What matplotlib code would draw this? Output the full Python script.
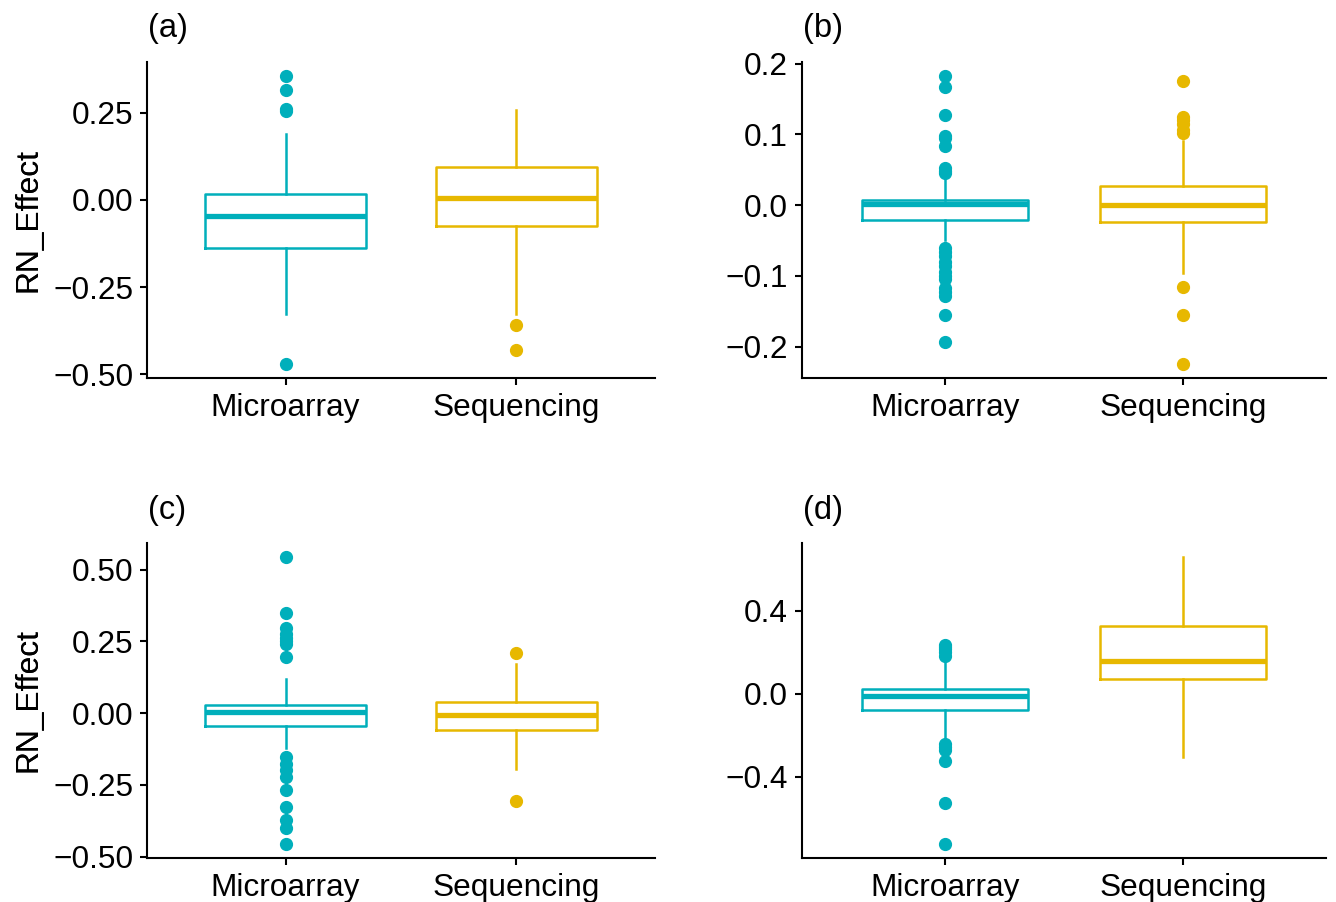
import matplotlib
matplotlib.use("Agg")
import matplotlib.pyplot as plt
from matplotlib.ticker import FixedLocator, FuncFormatter

plt.rcParams['font.family'] = ['Liberation Sans', 'DejaVu Sans']

categories = ["Microarray", "Sequencing"]
colors = ["#00AFBB", "#E7B800"]
panel_labels = ["(a)", "(b)", "(c)", "(d)"]

# panel (a)
a_q1 = [-0.138, -0.075]
a_med = [-0.045, 0.005]
a_q3 = [0.017, 0.093]
a_lo = [-0.327, -0.327]
a_hi = [0.189, 0.257]
a_out_micro = [0.354, 0.316, 0.260, 0.255, -0.469]
a_out_seq = [-0.357, -0.429]
a_ticks = [-0.50, -0.25, 0.00, 0.25]

# panel (b)
b_q1 = [-0.021, -0.0235]
b_med = [0.001, 0.0]
b_q3 = [0.007, 0.027]
b_lo = [-0.049, -0.096]
b_hi = [0.038, 0.090]
b_out_micro = [0.182, 0.167, 0.128, 0.098, 0.095, 0.083, 0.052, 0.048, 0.045,
               -0.061, -0.066, -0.072, -0.080, -0.086, -0.094, -0.100, -0.105,
               -0.117, -0.123, -0.128, -0.155, -0.194]
b_out_seq = [0.176, 0.125, 0.120, 0.115, 0.106, 0.102, -0.116, -0.155, -0.224]
b_ticks = [-0.2, -0.1, 0.0, 0.1, 0.2]

# panel (c)
c_q1 = [-0.045, -0.058]
c_med = [0.0035, -0.008]
c_q3 = [0.029, 0.038]
c_lo = [-0.120, -0.193]
c_hi = [0.119, 0.171]
c_out_micro = [0.543, 0.350, 0.298, 0.275, 0.263, 0.250, 0.240, 0.194,
               -0.153, -0.176, -0.199, -0.222, -0.268, -0.326, -0.372, -0.399, -0.455]
c_out_seq = [0.208, -0.305]
c_ticks = [-0.50, -0.25, 0.00, 0.25, 0.50]

# panel (d)
d_q1 = [-0.077, 0.072]
d_med = [-0.011, 0.160]
d_q3 = [0.024, 0.328]
d_lo = [-0.216, -0.304]
d_hi = [0.160, 0.659]
d_out_micro = [0.235, 0.225, 0.215, 0.200, 0.184, -0.240, -0.255, -0.272,
               -0.325, -0.525, -0.723]
d_out_seq = []
d_ticks = [-0.4, 0.0, 0.4]

panels = [
    (a_q1, a_med, a_q3, a_lo, a_hi, [a_out_micro, a_out_seq], a_ticks, '{:.2f}'),
    (b_q1, b_med, b_q3, b_lo, b_hi, [b_out_micro, b_out_seq], b_ticks, '{:.1f}'),
    (c_q1, c_med, c_q3, c_lo, c_hi, [c_out_micro, c_out_seq], c_ticks, '{:.2f}'),
    (d_q1, d_med, d_q3, d_lo, d_hi, [d_out_micro, d_out_seq], d_ticks, '{:.1f}'),
]


def make_fmt(f):
    def _f(v, pos):
        s = f.format(v)
        if s.startswith('-'):
            s = '\u2212' + s[1:]
        return s
    return FuncFormatter(_f)


W, H = 1336, 902
fig = plt.figure(figsize=(W / 100, H / 100), dpi=100)

# axes rectangles in pixels: left, right, top, bottom
rects = [(147, 655, 62, 378), (802, 1326, 62, 378),
         (147, 655, 543, 858), (802, 1326, 543, 858)]

FS = 22.8
for i, (q1, med, q3, lo, hi, outs, ticks, fmt) in enumerate(panels):
    l, r, t, b = rects[i]
    ax = fig.add_axes([l / W, (H - b) / H, (r - l) / W, (b - t) / H])
    for j in range(2):
        st = [dict(med=med[j], q1=q1[j], q3=q3[j], whislo=lo[j], whishi=hi[j],
                   fliers=outs[j], label=categories[j])]
        c = colors[j]
        ax.bxp(st, positions=[j + 1], widths=0.7, showcaps=False,
               boxprops=dict(color=c, linewidth=1.8),
               whiskerprops=dict(color=c, linewidth=1.8),
               medianprops=dict(color=c, linewidth=3.8, solid_capstyle='butt'),
               flierprops=dict(marker='o', markerfacecolor=c, markeredgecolor=c,
                               markersize=8.5, linestyle='none'),
               manage_ticks=False)
    allv = lo + hi + outs[0] + outs[1]
    vmin, vmax = min(allv), max(allv)
    pad = (vmax - vmin) * 0.05
    ax.set_ylim(vmin - pad, vmax + pad)
    ax.set_xlim(0.4, 2.6)
    ax.set_xticks([1, 2])
    ax.set_xticklabels(categories)
    ax.yaxis.set_major_locator(FixedLocator(ticks))
    ax.yaxis.set_major_formatter(make_fmt(fmt))
    for s in ['top', 'right']:
        ax.spines[s].set_visible(False)
    for s in ['left', 'bottom']:
        ax.spines[s].set_linewidth(1.5)
    ax.tick_params(axis='both', length=5, width=1.5, labelsize=FS, colors='black')
    ax.tick_params(axis='y', pad=5)
    ax.tick_params(axis='x', pad=6)
    ax.set_ylabel("RN_Effect", fontsize=FS)
    ax.yaxis.set_label_coords((43 - l) / (r - l), 0.5)
    fig.text((l + 1) / W, 1 - (29 + (t - 62)) / H, panel_labels[i], fontsize=23.5,
             ha='left', va='center')

fig.savefig("out.png", dpi=100)
